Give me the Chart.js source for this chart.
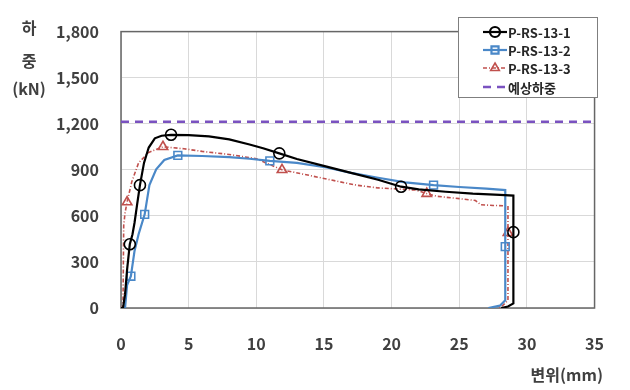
<!DOCTYPE html>
<html>
<head>
<meta charset="utf-8">
<script src="https://cdn.jsdelivr.net/npm/chart.js@4"></script>
<style>
  html, body { margin: 0; padding: 0; background: #fff; }
  #wrap { width: 630px; height: 390px; }
</style>
</head>
<body>
<div id="wrap"><canvas id="chart" width="630" height="390"></canvas></div>
<script>
// --- Data (displacement mm / load kN) ---
const seriesNames = ['P-RS-13-1', 'P-RS-13-2', 'P-RS-13-3', '예상하중'];

const disp1 = [0, 0.15, 0.3, 0.45, 0.65, 0.85, 1.0, 1.2, 1.4, 1.7, 2.05, 2.5, 3.0, 3.7, 5.0, 6.5, 8.0, 9.5, 10.5, 11.7, 13.0, 15.2, 17.0, 19.0, 20.7, 22.0, 24.0, 26.0, 28.0, 29.0, 29.0, 29.0, 29.0, 28.6, 28.1];
const load1 = [0, 0, 90, 250, 415, 480, 555, 680, 800, 945, 1045, 1105, 1122, 1128, 1126, 1118, 1098, 1065, 1040, 1007, 970, 921, 880, 835, 790, 772, 757, 745, 737, 732, 494, 90, 30, 10, 0];
const mark1 = [4, 8, 13, 19, 24, 30];

const disp2 = [0, 0.3, 0.45, 0.73, 1.0, 1.3, 1.75, 2.1, 2.6, 3.2, 4.2, 6.0, 8.0, 9.5, 11.0, 13.0, 15.2, 17.0, 19.0, 21.0, 23.1, 25.0, 27.0, 28.4, 28.4, 28.4, 28.0, 27.15];
const load2 = [0, 0, 150, 207, 372, 480, 610, 800, 903, 964, 994, 990, 982, 972, 958, 945, 915, 880, 848, 818, 800, 788, 778, 768, 400, 50, 15, 0];
const mark2 = [3, 6, 10, 14, 20, 24];

const disp3 = [0, 0.1, 0.15, 0.2, 0.3, 0.45, 0.8, 1.3, 2.05, 3.1, 4.65, 6.0, 8.0, 10.0, 11.9, 14.0, 16.0, 17.4, 19.0, 21.8, 22.6, 23.3, 25.0, 26.2, 26.6, 27.5, 28.6, 28.6, 28.6, 28.2, 27.8];
const load3 = [0, 0, 50, 537, 620, 690, 823, 945, 1013, 1050, 1037, 1020, 1000, 972, 900, 862, 825, 800, 782, 768, 745, 728, 712, 700, 672, 668, 665, 490, 50, 15, 0];
const mark3 = [5, 9, 14, 20, 27];

const dispE = [0, 35];
const loadE = [1213, 1213];

const xTicks = [0, 5, 10, 15, 20, 25, 30, 35];
const yTicks = [0, 300, 600, 900, 1200, 1500, 1800];

// --- Helpers ---
const FONT = '"Noto Sans CJK KR", "Noto Sans", sans-serif';
const toPoints = (xs, ys) => xs.map((x, i) => ({ x: x, y: ys[i] }));
const markerRadius = (marks, r) => (ctx) => marks.includes(ctx.dataIndex) ? r : 0;

// plot frame
const framePlugin = {
  id: 'frame',
  beforeDatasetsDraw(chart) {
    const { ctx, chartArea: a } = chart;
    ctx.save();
    ctx.strokeStyle = '#666';
    ctx.lineWidth = 1.5;
    ctx.strokeRect(a.left, a.top, a.right - a.left, a.bottom - a.top);
    ctx.restore();
  }
};

// axis titles (y title is stacked, not rotated)
const titlePlugin = {
  id: 'titles',
  afterDraw(chart) {
    const ctx = chart.ctx;
    ctx.save();
    ctx.fillStyle = '#404040';
    ctx.font = 'bold 16px ' + FONT;
    ctx.textAlign = 'center';
    ctx.textBaseline = 'middle';
    ctx.fillText('하', 29, 28);
    ctx.fillText('중', 29, 61);
    ctx.fillText('(kN)', 29, 89);
    ctx.textAlign = 'right';
    ctx.fillText('변위(mm)', 603, 375);
    ctx.restore();
  }
};

// legend box inside the plot, top right
const legendPlugin = {
  id: 'boxLegend',
  afterDraw(chart) {
    const ctx = chart.ctx;
    const bx = 458, by = 17, bw = 139, bh = 80;
    const rows = [32, 50, 68, 87];
    ctx.save();
    ctx.fillStyle = '#fff';
    ctx.fillRect(bx, by, bw, bh);
    ctx.strokeStyle = '#7f7f7f';
    ctx.lineWidth = 1;
    ctx.strokeRect(bx + 0.5, by + 0.5, bw, bh);
    chart.data.datasets.forEach((ds, i) => {
      const y = rows[i];
      ctx.strokeStyle = ds.borderColor;
      ctx.lineWidth = ds.borderWidth;
      ctx.setLineDash(ds.borderDash || []);
      ctx.beginPath();
      ctx.moveTo(483, y);
      ctx.lineTo(507, y);
      ctx.stroke();
      ctx.setLineDash([]);
      if (ds.pointStyle) {
        ctx.strokeStyle = ds.borderColor;
        ctx.fillStyle = 'rgba(255,255,255,0)';
        Chart.helpers.drawPoint(ctx, { pointStyle: ds.pointStyle, radius: 5, rotation: 0, borderWidth: 1.5 }, 495, y);
      }
      ctx.fillStyle = '#262626';
      ctx.font = 'bold 13px ' + FONT;
      ctx.textAlign = 'left';
      ctx.textBaseline = 'middle';
      ctx.fillText(ds.label, 508, y + 1);
    });
    ctx.restore();
  }
};

const lineSet = (label, xs, ys, marks, color, style, width, dash, order) => ({
  label: label,
  data: toPoints(xs, ys),
  showLine: true,
  borderColor: color,
  borderWidth: width,
  borderDash: dash,
  pointStyle: style,
  pointRadius: markerRadius(marks, 5.5),
  pointBorderColor: color,
  pointBorderWidth: 1.6,
  pointBackgroundColor: 'rgba(255,255,255,0)',
  tension: 0,
  order: order
});

new Chart(document.getElementById('chart'), {
  type: 'scatter',
  data: {
    datasets: [
      lineSet(seriesNames[0], disp1, load1, mark1, '#000000', 'circle', 2.2, [], 1),
      lineSet(seriesNames[1], disp2, load2, mark2, '#4a88c8', 'rect', 2.2, [], 2),
      lineSet(seriesNames[2], disp3, load3, mark3, '#c0504d', 'triangle', 1.6, [4, 2, 1, 2], 3),
      {
        label: seriesNames[3],
        data: toPoints(dispE, loadE),
        showLine: true,
        borderColor: '#7a52c0',
        borderWidth: 2.5,
        borderDash: [8, 6],
        pointRadius: 0,
        order: 4
      }
    ]
  },
  options: {
    responsive: false,
    animation: false,
    events: [],
    layout: { padding: { left: 0, right: 29, top: 13, bottom: 0 } },
    plugins: { legend: { display: false }, tooltip: { enabled: false } },
    scales: {
      x: {
        type: 'linear',
        min: 0, max: 35,
        afterBuildTicks: (s) => { s.ticks = xTicks.map(v => ({ value: v })); },
        afterFit: (s) => { s.height = 82; },
        ticks: { color: '#404040', font: { family: FONT, size: 16, weight: 'bold' }, padding: 26, maxRotation: 0 },
        grid: { color: '#d9d9d9', lineWidth: 1, drawTicks: false },
        border: { display: false }
      },
      y: {
        type: 'linear',
        min: 0, max: 1800,
        afterBuildTicks: (s) => { s.ticks = yTicks.map(v => ({ value: v })); },
        afterFit: (s) => { s.width = 121; },
        ticks: {
          color: '#404040', font: { family: FONT, size: 16, weight: 'bold' }, padding: 22,
          callback: (v) => v.toLocaleString('en-US')
        },
        grid: { color: '#d9d9d9', lineWidth: 1, drawTicks: false },
        border: { display: false }
      }
    }
  },
  plugins: [framePlugin, titlePlugin, legendPlugin]
});
</script>
</body>
</html>
